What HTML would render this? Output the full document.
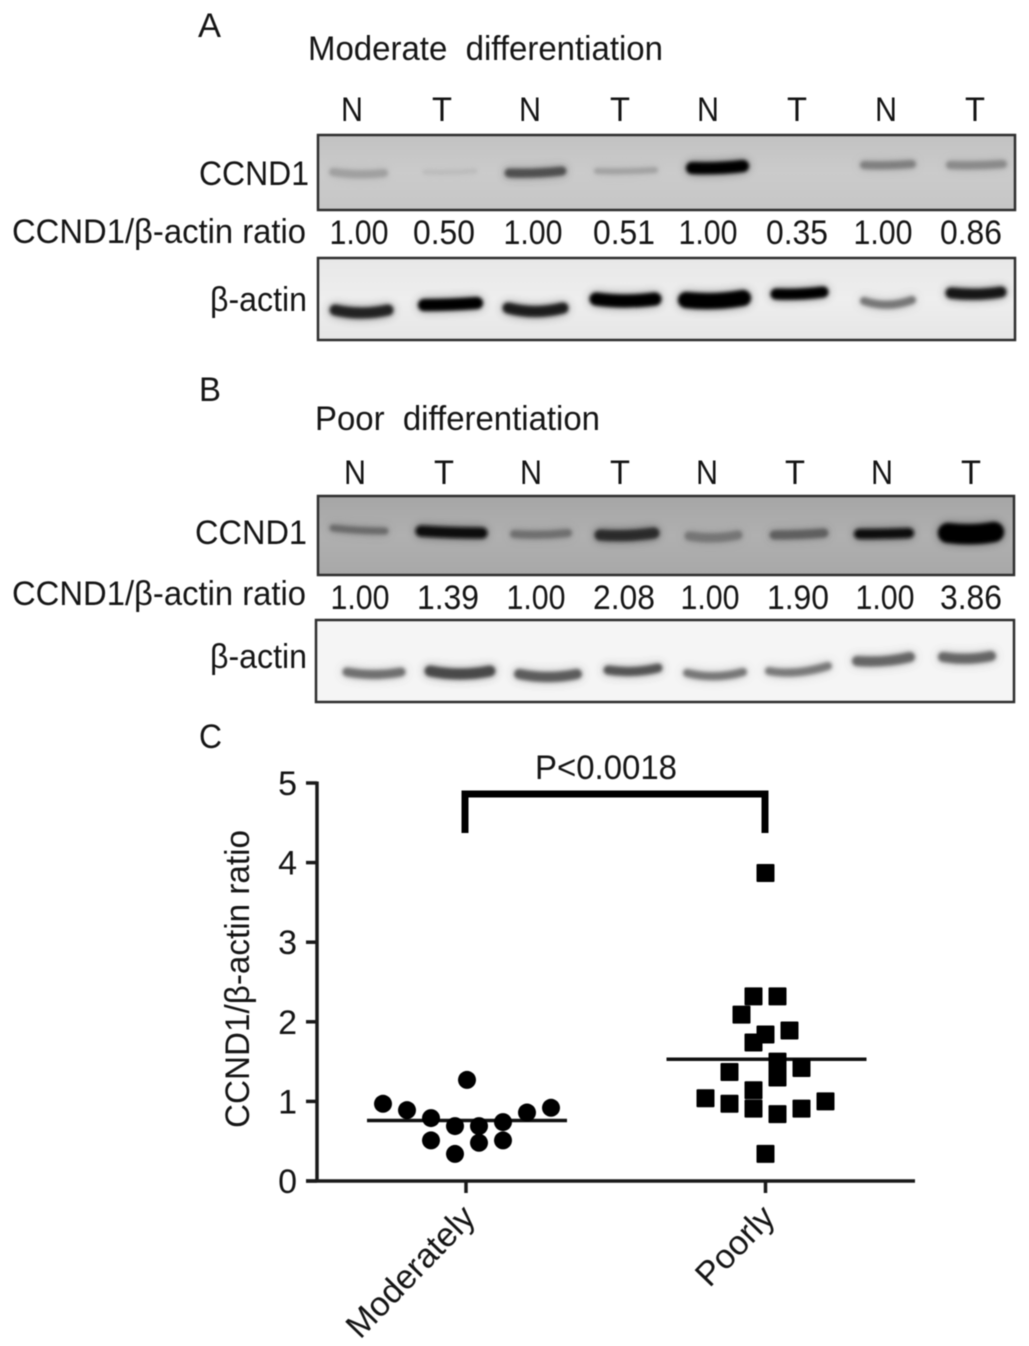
<!DOCTYPE html>
<html lang="en">
<head>
<meta charset="utf-8">
<title>CCND1 western blots and ratio scatter</title>
<style>
html,body{margin:0;padding:0;background:#fff;}
#figure{display:block;width:1029px;height:1346px;filter:blur(0.55px);}
text{font-family:"Liberation Sans",Arial,sans-serif;fill:#151515;font-size:34px;}
.lane{text-anchor:middle;}
.val{text-anchor:middle;}
.rt{text-anchor:end;}
.box{fill:none;stroke:#2e2e2e;stroke-width:2.5;}
.band{fill:none;stroke-linecap:round;}
</style>
</head>
<body>
<svg id="figure" xmlns="http://www.w3.org/2000/svg" width="1029" height="1346" viewBox="0 0 1029 1346">
<defs>
<filter id="soft" x="-30%" y="-150%" width="160%" height="400%" primitiveUnits="userSpaceOnUse">
<feGaussianBlur in="SourceGraphic" stdDeviation="5" result="halo"/>
<feComponentTransfer in="halo" result="haloDim"><feFuncA type="linear" slope="0.45"/></feComponentTransfer>
<feGaussianBlur in="SourceGraphic" stdDeviation="1.8" result="core"/>
<feMerge><feMergeNode in="haloDim"/><feMergeNode in="core"/></feMerge>
</filter>
<linearGradient id="bgA" x1="0" y1="0" x2="0" y2="1"><stop offset="0" stop-color="#c2c2c2"/><stop offset=".5" stop-color="#cbcbcb"/><stop offset="1" stop-color="#c6c6c6"/></linearGradient>
<linearGradient id="bgA2" x1="0" y1="0" x2="0" y2="1"><stop offset="0" stop-color="#e8e8e8"/><stop offset=".5" stop-color="#eeeeee"/><stop offset="1" stop-color="#e6e6e6"/></linearGradient>
<linearGradient id="bgB" x1="0" y1="0" x2="0" y2="1"><stop offset="0" stop-color="#a6a6a6"/><stop offset=".5" stop-color="#b0b0b0"/><stop offset="1" stop-color="#a8a8a8"/></linearGradient>
</defs>
<rect width="1029" height="1346" fill="#fff"/>

<!-- Panel A -->
<text x="198" y="37" textLength="23" lengthAdjust="spacingAndGlyphs">A</text>
<text x="308" y="60" textLength="355" lengthAdjust="spacingAndGlyphs" xml:space="preserve">Moderate  differentiation</text>
<g>
<text class="lane" x="352" y="121" textLength="22" lengthAdjust="spacingAndGlyphs">N</text><text class="lane" x="442" y="121" textLength="20" lengthAdjust="spacingAndGlyphs">T</text><text class="lane" x="530" y="121" textLength="22" lengthAdjust="spacingAndGlyphs">N</text><text class="lane" x="620" y="121" textLength="20" lengthAdjust="spacingAndGlyphs">T</text><text class="lane" x="708" y="121" textLength="22" lengthAdjust="spacingAndGlyphs">N</text><text class="lane" x="797" y="121" textLength="20" lengthAdjust="spacingAndGlyphs">T</text><text class="lane" x="886" y="121" textLength="22" lengthAdjust="spacingAndGlyphs">N</text><text class="lane" x="975" y="121" textLength="20" lengthAdjust="spacingAndGlyphs">T</text>
</g>
<text class="rt" x="309" y="185" textLength="110" lengthAdjust="spacingAndGlyphs">CCND1</text>
<g>
<rect x="318" y="135" width="697" height="75" fill="url(#bgA)"/>
<g filter="url(#soft)" class="band">
<path d="M333 172Q358 176 384 173" stroke="#a0a0a0" stroke-width="8"/>
<path d="M425 172Q450 173 475 171" stroke="#bcbcbc" stroke-width="5"/>
<path d="M509 173Q535 174 562 171" stroke="#505050" stroke-width="9"/>
<path d="M597 171Q625 172 655 170" stroke="#a2a2a2" stroke-width="6"/>
<path d="M692 168Q718 169 743 166" stroke="#000" stroke-width="12"/>
<path d="M864 165Q888 166 912 164" stroke="#808080" stroke-width="8"/>
<path d="M950 165Q976 166 1003 164" stroke="#8a8a8a" stroke-width="8"/>
</g>
<rect class="box" x="318" y="135" width="697" height="75"/>
</g>
<text x="12" y="243" textLength="294" lengthAdjust="spacingAndGlyphs">CCND1/β-actin ratio</text>
<g>
<text class="val" x="359" y="244" textLength="59" lengthAdjust="spacingAndGlyphs">1.00</text><text class="val" x="444" y="244" textLength="62" lengthAdjust="spacingAndGlyphs">0.50</text><text class="val" x="533" y="244" textLength="59" lengthAdjust="spacingAndGlyphs">1.00</text><text class="val" x="624" y="244" textLength="62" lengthAdjust="spacingAndGlyphs">0.51</text><text class="val" x="708" y="244" textLength="59" lengthAdjust="spacingAndGlyphs">1.00</text><text class="val" x="797" y="244" textLength="62" lengthAdjust="spacingAndGlyphs">0.35</text><text class="val" x="883" y="244" textLength="59" lengthAdjust="spacingAndGlyphs">1.00</text><text class="val" x="971" y="244" textLength="62" lengthAdjust="spacingAndGlyphs">0.86</text>
</g>
<text class="rt" x="307" y="311" textLength="97" lengthAdjust="spacingAndGlyphs">β-actin</text>
<g>
<rect x="318" y="258" width="697" height="82" fill="url(#bgA2)"/>
<g filter="url(#soft)" class="band">
<path d="M335 310Q361 316 388 310" stroke="#222" stroke-width="11"/>
<path d="M424 305Q450 305 477 303" stroke="#000" stroke-width="12"/>
<path d="M508 308Q535 315 563 308" stroke="#1c1c1c" stroke-width="11"/>
<path d="M596 299Q625 303 655 299" stroke="#000" stroke-width="13"/>
<path d="M686 300Q714 303 743 298" stroke="#000" stroke-width="16"/>
<path d="M776 294Q799 295 823 292" stroke="#000" stroke-width="11"/>
<path d="M864 301Q888 309 912 300" stroke="#777" stroke-width="8"/>
<path d="M951 293Q976 296 1001 292" stroke="#151515" stroke-width="11"/>
</g>
<rect class="box" x="318" y="258" width="697" height="82"/>
</g>

<!-- Panel B -->
<text x="199" y="401" textLength="22" lengthAdjust="spacingAndGlyphs">B</text>
<text x="315" y="430" textLength="285" lengthAdjust="spacingAndGlyphs" xml:space="preserve">Poor  differentiation</text>
<g>
<text class="lane" x="355" y="484" textLength="22" lengthAdjust="spacingAndGlyphs">N</text><text class="lane" x="444" y="484" textLength="20" lengthAdjust="spacingAndGlyphs">T</text><text class="lane" x="531" y="484" textLength="22" lengthAdjust="spacingAndGlyphs">N</text><text class="lane" x="620" y="484" textLength="20" lengthAdjust="spacingAndGlyphs">T</text><text class="lane" x="707" y="484" textLength="22" lengthAdjust="spacingAndGlyphs">N</text><text class="lane" x="795" y="484" textLength="20" lengthAdjust="spacingAndGlyphs">T</text><text class="lane" x="882" y="484" textLength="22" lengthAdjust="spacingAndGlyphs">N</text><text class="lane" x="971" y="484" textLength="20" lengthAdjust="spacingAndGlyphs">T</text>
</g>
<text class="rt" x="307" y="544" textLength="112" lengthAdjust="spacingAndGlyphs">CCND1</text>
<g>
<rect x="318" y="496" width="696" height="79" fill="url(#bgB)"/>
<g filter="url(#soft)" class="band">
<path d="M333 528Q358 531 385 531" stroke="#6a6a6a" stroke-width="7"/>
<path d="M421 531Q450 533 482 533" stroke="#111" stroke-width="11"/>
<path d="M514 534Q541 536 568 533" stroke="#707070" stroke-width="8"/>
<path d="M600 535Q626 537 654 533" stroke="#2c2c2c" stroke-width="11"/>
<path d="M689 536Q714 540 738 535" stroke="#767676" stroke-width="9"/>
<path d="M774 535Q800 535 824 533" stroke="#5e5e5e" stroke-width="9"/>
<path d="M859 534Q886 534 909 533" stroke="#111" stroke-width="10"/>
<path d="M948 533Q972 536 994 532" stroke="#000" stroke-width="20"/>
</g>
<rect class="box" x="318" y="496" width="696" height="79"/>
</g>
<text x="12" y="605" textLength="294" lengthAdjust="spacingAndGlyphs">CCND1/β-actin ratio</text>
<g>
<text class="val" x="360" y="609" textLength="59" lengthAdjust="spacingAndGlyphs">1.00</text><text class="val" x="448" y="609" textLength="62" lengthAdjust="spacingAndGlyphs">1.39</text><text class="val" x="536" y="609" textLength="59" lengthAdjust="spacingAndGlyphs">1.00</text><text class="val" x="624" y="609" textLength="62" lengthAdjust="spacingAndGlyphs">2.08</text><text class="val" x="710" y="609" textLength="59" lengthAdjust="spacingAndGlyphs">1.00</text><text class="val" x="798" y="609" textLength="62" lengthAdjust="spacingAndGlyphs">1.90</text><text class="val" x="885" y="609" textLength="59" lengthAdjust="spacingAndGlyphs">1.00</text><text class="val" x="971" y="609" textLength="62" lengthAdjust="spacingAndGlyphs">3.86</text>
</g>
<text class="rt" x="307" y="668" textLength="97" lengthAdjust="spacingAndGlyphs">β-actin</text>
<g>
<rect x="316" y="620" width="698" height="82" fill="#f5f5f5"/>
<g filter="url(#soft)" class="band">
<path d="M347 672Q374 677 401 672" stroke="#6f6f6f" stroke-width="9"/>
<path d="M430 671Q460 677 490 671" stroke="#4a4a4a" stroke-width="11"/>
<path d="M519 674Q548 680 577 674" stroke="#5c5c5c" stroke-width="10"/>
<path d="M608 670Q633 674 658 668" stroke="#555" stroke-width="9"/>
<path d="M687 673Q715 680 743 672" stroke="#777" stroke-width="8"/>
<path d="M769 671Q795 676 828 666" stroke="#7a7a7a" stroke-width="8"/>
<path d="M857 661Q885 663 910 657" stroke="#666" stroke-width="10"/>
<path d="M943 657Q967 661 991 656" stroke="#666" stroke-width="10"/>
</g>
<rect class="box" x="316" y="620" width="698" height="82"/>
</g>

<!-- Panel C -->
<text x="199" y="748" textLength="23" lengthAdjust="spacingAndGlyphs">C</text>
<g id="chart"></g>
<path d="M465 833V794H765V833" fill="none" stroke="#000" stroke-width="7"/>
<text x="606" y="779" text-anchor="middle" textLength="142" lengthAdjust="spacingAndGlyphs">P&lt;0.0018</text>
<text transform="translate(249,979) rotate(-90)" text-anchor="middle" textLength="298" lengthAdjust="spacingAndGlyphs">CCND1/β-actin ratio</text>
</svg>
<script>
var categories = ['Moderately', 'Poorly'];
var yTicks = [0, 1, 2, 3, 4, 5];
var moderatelyValues = [0.97, 0.89, 0.79, 0.69, 0.69, 0.74, 0.86, 0.92, 1.27, 0.51, 0.48, 0.51, 0.34];
var moderatelySlots = [-3.5, -2.5, -1.5, -0.5, 0.5, 1.5, 2.5, 3.5, 0, -1.5, 0.5, 1.5, -0.5];
var poorlyValues = [3.87, 2.32, 2.32, 2.09, 1.84, 1.89, 1.74, 1.50, 1.30, 1.42, 1.37, 1.04, 0.97, 1.14, 0.91, 0.84, 0.91, 1.00, 0.34];
var poorlySlots = [0, -0.5, 0.5, -1, 0, 1, -0.5, 0.5, 0.5, 1.5, -1.5, -2.5, -1.5, -0.5, -0.5, 0.5, 1.5, 2.5, 0];
var meanValues = [0.76, 1.53];

var NS = 'http://www.w3.org/2000/svg';
var chart = document.getElementById('chart');
function yScale(v) { return 1181 - v * 79.6; }
function xScale(i) { return 466 + i * 299.5; }
function slotX(i, slot) { return xScale(i) + slot * 24; }
function make(tag, attrs, parent) {
  var el = document.createElementNS(NS, tag);
  for (var k in attrs) el.setAttribute(k, attrs[k]);
  parent.appendChild(el);
  return el;
}
var tickEnd = 5;
var yAxis = make('line', {x1: 317, x2: 317, y1: yScale(tickEnd) - 1.5, y2: yScale(0) + 1.5, stroke: '#1a1a1a', 'stroke-width': 3.5}, chart);


var xAxis = make('line', {x1: 306, x2: 915, y1: yScale(0), y2: yScale(0), stroke: '#1a1a1a', 'stroke-width': 3.5}, chart);


yTicks.forEach(function (t) {
  var y = yScale(t);
  var tick = make('line', {x1: 306, x2: 317, y1: y, y2: y, stroke: '#1a1a1a', 'stroke-width': 3.5}, chart);
  
  
  var label = make('text', {x: 297, y: y + 12, 'text-anchor': 'end'}, chart);
  
  
  label.textContent = String(t);
});
categories.forEach(function (c, i) {
  var x = xScale(i);
  var tick = make('line', {x1: x, x2: x, y1: yScale(0), y2: yScale(0) + 12, stroke: '#1a1a1a', 'stroke-width': 3.5}, chart);
  
  
  var label = make('text', {transform: 'translate(' + (x + 11) + ',' + (yScale(0) + 38) + ') rotate(-46)', 'text-anchor': 'end'}, chart);
  
  
  label.textContent = c;
  var mean = make('line', {x1: x - 99, x2: x + 101, y1: yScale(meanValues[i]), y2: yScale(meanValues[i]), stroke: '#111', 'stroke-width': 3.5}, chart);
  
  
});
moderatelyValues.forEach(function (v, n) {
  var dot = make('circle', {cx: slotX(0, moderatelySlots[n]) + 1, cy: yScale(v), r: 9}, chart);
  dot.setAttribute('fill', '#000');
  
  
});
poorlyValues.forEach(function (v, n) {
  var sq = make('rect', {x: slotX(1, poorlySlots[n]) - 9, y: yScale(v) - 9, width: 18, height: 18, rx: 1}, chart);
  sq.setAttribute('fill', '#000');
  
  
});
</script>
</body>
</html>
